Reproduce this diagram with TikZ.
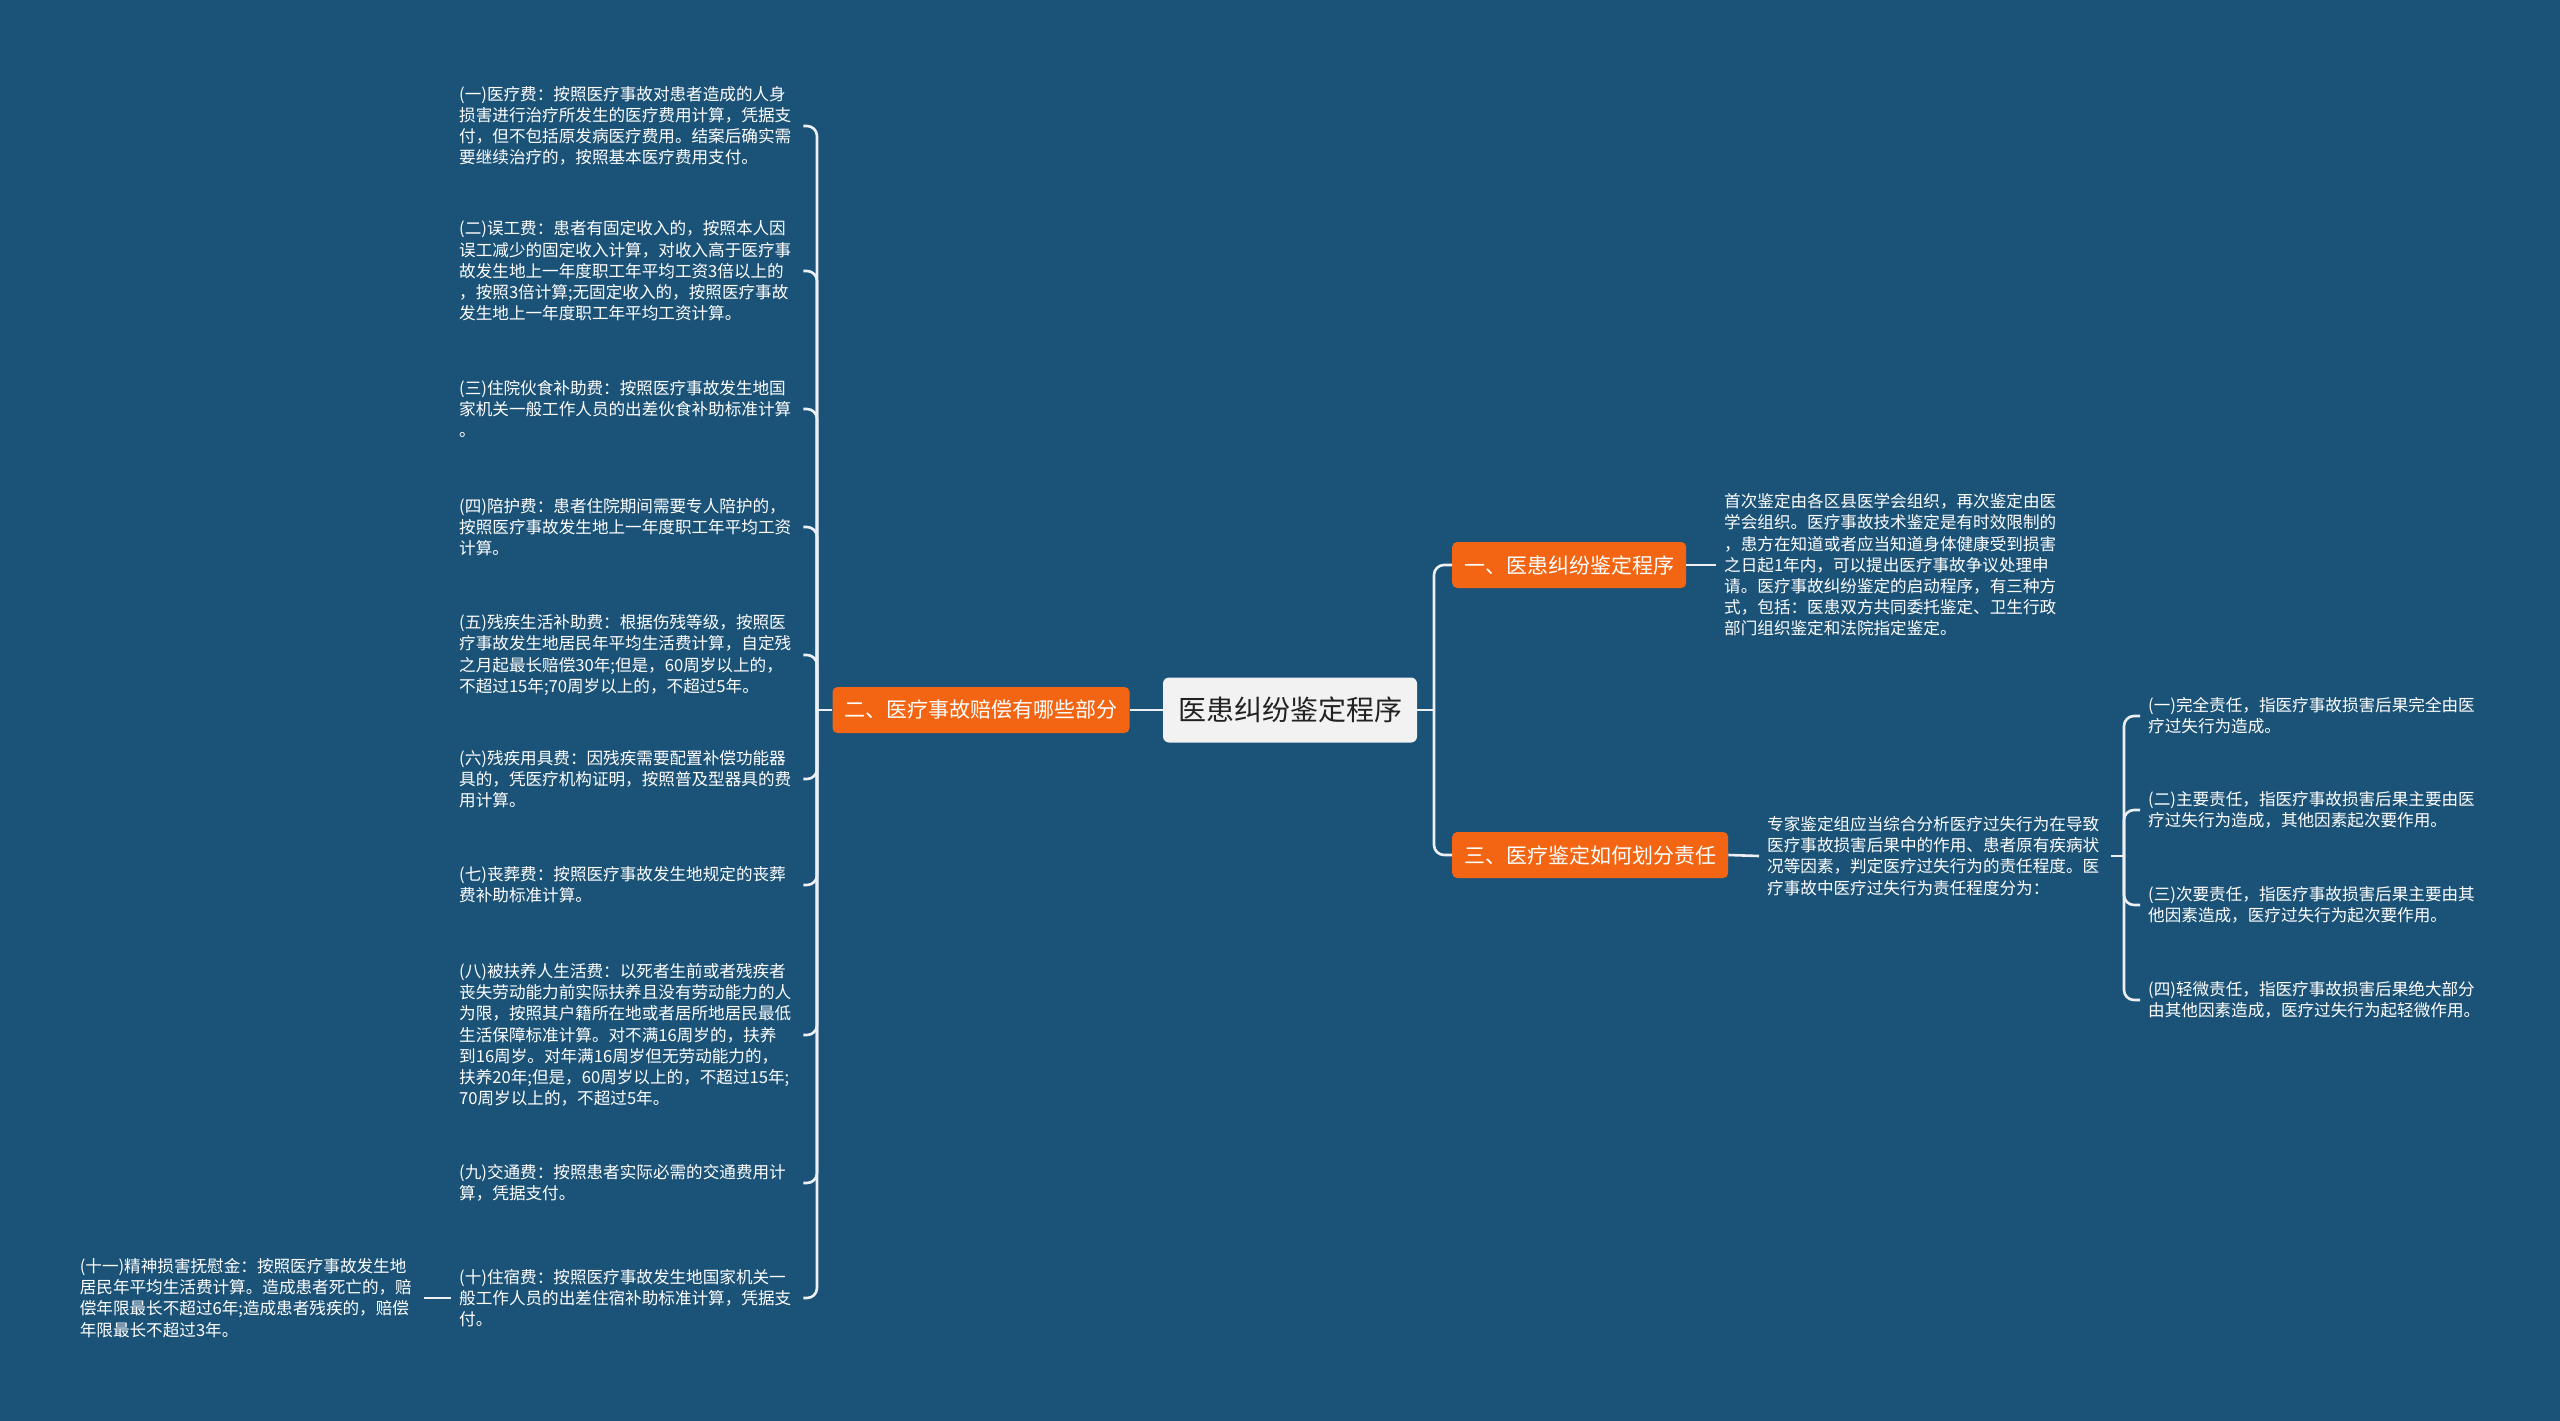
\documentclass[tikz,border=0pt]{standalone}
\usepackage{fontspec}
\setmainfont{Noto Sans CJK SC}
\definecolor{bg}{RGB}{27,82,120}
\definecolor{orangeC}{RGB}{243,101,18}
\definecolor{rootfill}{RGB}{242,242,242}
\definecolor{rootText}{RGB}{34,34,34}
\definecolor{lineC}{RGB}{236,240,244}
\begin{document}
\begin{tikzpicture}[x=1pt,y=-1pt,
  leaf/.style={anchor=west, align=left, text width=336pt, inner xsep=8pt, inner ysep=3pt, text=white, font=\fontsize{16.6}{21.2}\selectfont},
  branch/.style={fill=orangeC, rounded corners=5pt, text=white, font=\fontsize{21}{25}\selectfont, inner xsep=12pt, minimum height=46pt},
  rootbox/.style={fill=rootfill, rounded corners=6pt, text=rootText, font=\fontsize{28}{32}\selectfont, inner xsep=15pt, minimum height=65pt},
  link/.style={draw=lineC, line width=2.6pt, rounded corners=10pt}]
\useasboundingbox (0,0) rectangle (2560,1421);
\fill[bg] (0,0) rectangle (2560,1421);

% main nodes
\node[rootbox] (root) at (1290,710) {医患纠纷鉴定程序};
\node[branch] (b2) at (981,710) {二、医疗事故赔偿有哪些部分};
\node[branch, anchor=west] (b1) at (1452,565) {一、医患纠纷鉴定程序};
\node[branch, anchor=west] (b3) at (1452,855) {三、医疗鉴定如何划分责任};

% left leaves
\node[leaf] (l1) at (451,126) {(一)医疗费：按照医疗事故对患者造成的人身\\损害进行治疗所发生的医疗费用计算，凭据支\\付，但不包括原发病医疗费用。结案后确实需\\要继续治疗的，按照基本医疗费用支付。};
\node[leaf] (l2) at (451,271) {(二)误工费：患者有固定收入的，按照本人因\\误工减少的固定收入计算，对收入高于医疗事\\故发生地上一年度职工年平均工资3倍以上的\\，按照3倍计算;无固定收入的，按照医疗事故\\发生地上一年度职工年平均工资计算。};
\node[leaf] (l3) at (451,409) {(三)住院伙食补助费：按照医疗事故发生地国\\家机关一般工作人员的出差伙食补助标准计算\\。};
\node[leaf] (l4) at (451,527) {(四)陪护费：患者住院期间需要专人陪护的，\\按照医疗事故发生地上一年度职工年平均工资\\计算。};
\node[leaf] (l5) at (451,655) {(五)残疾生活补助费：根据伤残等级，按照医\\疗事故发生地居民年平均生活费计算，自定残\\之月起最长赔偿30年;但是，60周岁以上的，\\不超过15年;70周岁以上的，不超过5年。};
\node[leaf] (l6) at (451,779) {(六)残疾用具费：因残疾需要配置补偿功能器\\具的，凭医疗机构证明，按照普及型器具的费\\用计算。};
\node[leaf] (l7) at (451,885) {(七)丧葬费：按照医疗事故发生地规定的丧葬\\费补助标准计算。};
\node[leaf] (l8) at (451,1035) {(八)被扶养人生活费：以死者生前或者残疾者\\丧失劳动能力前实际扶养且没有劳动能力的人\\为限，按照其户籍所在地或者居所地居民最低\\生活保障标准计算。对不满16周岁的，扶养\\到16周岁。对年满16周岁但无劳动能力的，\\扶养20年;但是，60周岁以上的，不超过15年;\\70周岁以上的，不超过5年。};
\node[leaf] (l9) at (451,1183) {(九)交通费：按照患者实际必需的交通费用计\\算，凭据支付。};
\node[leaf] (l10) at (451,1298) {(十)住宿费：按照医疗事故发生地国家机关一\\般工作人员的出差住宿补助标准计算，凭据支\\付。};
\node[leaf, anchor=east] (l11) at (424,1298) {(十一)精神损害抚慰金：按照医疗事故发生地\\居民年平均生活费计算。造成患者死亡的，赔\\偿年限最长不超过6年;造成患者残疾的，赔偿\\年限最长不超过3年。};

% right texts
\node[leaf] (t1) at (1716,565) {首次鉴定由各区县医学会组织，再次鉴定由医\\学会组织。医疗事故技术鉴定是有时效限制的\\，患方在知道或者应当知道身体健康受到损害\\之日起1年内，可以提出医疗事故争议处理申\\请。医疗事故纠纷鉴定的启动程序，有三种方\\式，包括：医患双方共同委托鉴定、卫生行政\\部门组织鉴定和法院指定鉴定。};
\node[leaf] (t3) at (1759,856) {专家鉴定组应当综合分析医疗过失行为在导致\\医疗事故损害后果中的作用、患者原有疾病状\\况等因素，判定医疗过失行为的责任程度。医\\疗事故中医疗过失行为责任程度分为：};
\node[leaf] (r1) at (2140,716) {(一)完全责任，指医疗事故损害后果完全由医\\疗过失行为造成。};
\node[leaf] (r2) at (2140,810) {(二)主要责任，指医疗事故损害后果主要由医\\疗过失行为造成，其他因素起次要作用。};
\node[leaf] (r3) at (2140,905) {(三)次要责任，指医疗事故损害后果主要由其\\他因素造成，医疗过失行为起次要作用。};
\node[leaf] (r4) at (2140,1000) {(四)轻微责任，指医疗事故损害后果绝大部分\\由其他因素造成，医疗过失行为起轻微作用。};

% connectors
\coordinate (jl) at (817,710);
\coordinate (jr) at (1434,710);
\coordinate (jr3) at (2124,856);
\draw[link] (root.west) -- (b2.east);
\draw[link] (b2.west) -- (jl);
\foreach \n in {l1,l2,l3,l4,l5,l6,l7,l8,l9,l10} \draw[link] (jl) |- (\n.east);
\draw[link] (l10.west) -- (l11.east);
\draw[link] (root.east) -- (jr);
\draw[link] (jr) |- (b1.west);
\draw[link] (jr) |- (b3.west);
\draw[link] (b1.east) -- (t1.west);
\draw[link] (b3.east) -- (t3.west);
\draw[link] (t3.east) -- (jr3);
\foreach \n in {r1,r2,r3,r4} \draw[link] (jr3) |- (\n.west);
\end{tikzpicture}
\end{document}
